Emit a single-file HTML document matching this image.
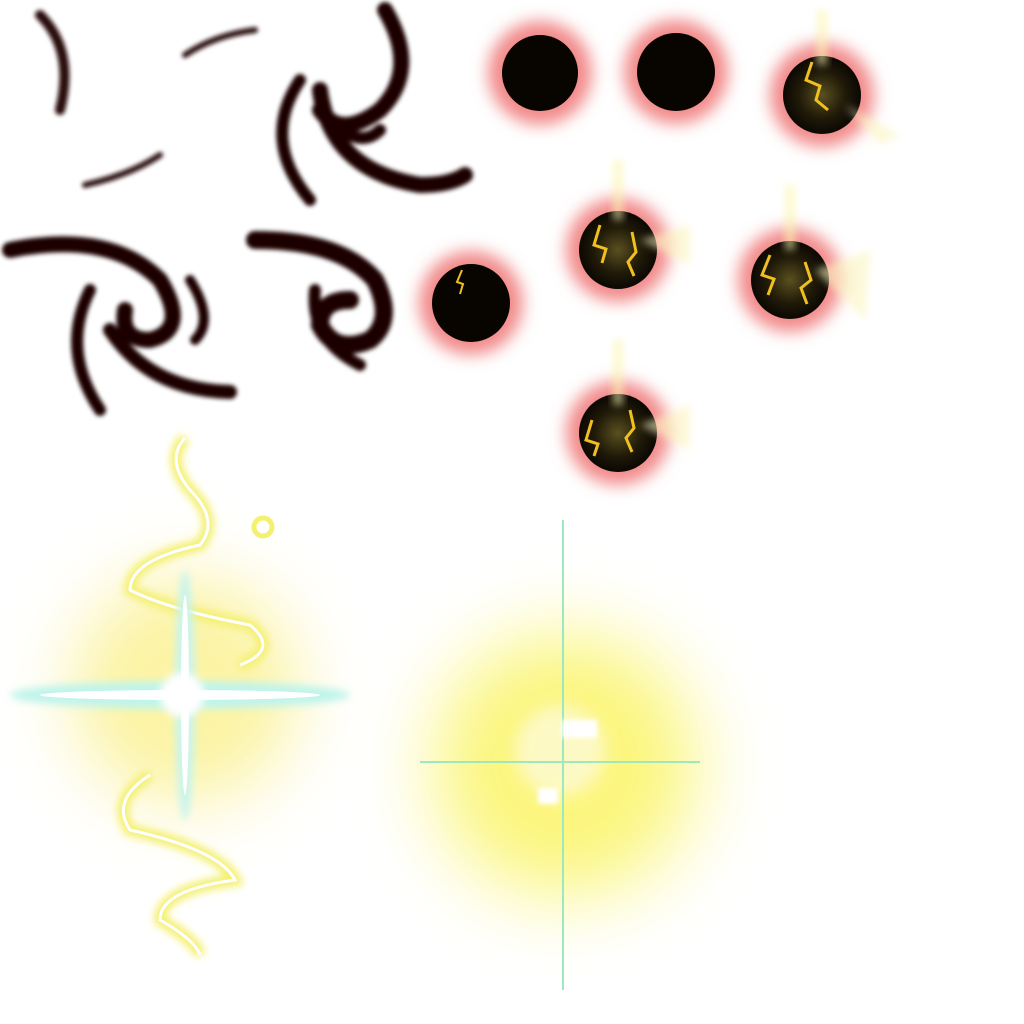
<!DOCTYPE html>
<html><head><meta charset="utf-8"><style>
html,body{margin:0;padding:0;background:#fff;width:1024px;height:1024px;overflow:hidden}
</style></head><body>
<svg width="1024" height="1024" viewBox="0 0 1024 1024" xmlns="http://www.w3.org/2000/svg">
<defs>
<filter id="b2" x="-50%" y="-50%" width="200%" height="200%"><feGaussianBlur stdDeviation="2"/></filter>
<filter id="b4" x="-50%" y="-50%" width="200%" height="200%"><feGaussianBlur stdDeviation="4"/></filter>
<filter id="b8" x="-50%" y="-50%" width="200%" height="200%"><feGaussianBlur stdDeviation="8"/></filter>
<filter id="b30" x="-50%" y="-50%" width="200%" height="200%"><feGaussianBlur stdDeviation="30"/></filter>
<radialGradient id="yg" cx="50%" cy="50%" r="50%">
<stop offset="0" stop-color="#fff8a0"/><stop offset="0.45" stop-color="#fbf56a"/><stop offset="0.75" stop-color="#fdfbc0"/><stop offset="1" stop-color="#fff" stop-opacity="0"/></radialGradient>
<radialGradient id="yg2" cx="50%" cy="50%" r="50%">
<stop offset="0" stop-color="#fff6b0"/><stop offset="0.5" stop-color="#fbf29a"/><stop offset="1" stop-color="#fff" stop-opacity="0"/></radialGradient>
<radialGradient id="orbIn" cx="50%" cy="50%" r="50%">
<stop offset="0" stop-color="#5a5020"/><stop offset="0.6" stop-color="#201a08"/><stop offset="1" stop-color="#0b0803"/></radialGradient>
</defs>

<g fill="none" stroke="#2a0c0c" stroke-linecap="round" filter="url(#b2)">
<path d="M40 15 Q75 50 60 110" stroke-width="10"/>
<path d="M185 55 Q215 35 255 30" stroke-width="6"/>
<path d="M85 185 Q130 175 160 155" stroke-width="6"/>
</g>
<g fill="none" stroke="#1e0606" stroke-linecap="round" filter="url(#b2)">
<path d="M385 10 Q420 70 380 110 Q340 140 320 110" stroke-width="16"/>
<path d="M300 80 Q260 140 310 200" stroke-width="12"/>
<path d="M320 90 Q330 170 420 185 Q450 185 465 175" stroke-width="16"/>
<path d="M330 120 Q360 150 380 130" stroke-width="12"/>
</g>
<g fill="none" stroke="#1e0606" stroke-linecap="round" filter="url(#b2)">
<path d="M10 250 Q110 230 160 280 Q190 330 150 340 Q120 340 125 310" stroke-width="16"/>
<path d="M90 290 Q60 350 100 410" stroke-width="12"/>
<path d="M110 330 Q150 390 230 392" stroke-width="14"/>
<path d="M190 280 Q215 320 195 340" stroke-width="10"/>
</g>
<g fill="none" stroke="#1e0606" stroke-linecap="round" filter="url(#b2)">
<path d="M255 240 Q340 240 375 280 Q395 320 370 340 Q335 355 320 325 Q320 300 350 300" stroke-width="18"/>
<path d="M315 290 Q310 340 360 365" stroke-width="12"/>
</g>

<g>
<g><circle cx="540" cy="73" r="52" fill="#f28a8a" filter="url(#b8)"/><circle cx="540" cy="73" r="38" fill="#080400"/></g>
<g><circle cx="676" cy="72" r="52" fill="#f28a8a" filter="url(#b8)"/><circle cx="676" cy="72" r="39" fill="#080400"/></g>
<g><circle cx="471" cy="303" r="52" fill="#f28a8a" filter="url(#b8)"/><circle cx="471" cy="303" r="39" fill="#080400"/><path d="M462 270 l-5 12 l6 2 l-3 10" stroke="#f0c020" stroke-width="2" fill="none"/></g>
<g><circle cx="822" cy="95" r="52" fill="#f28a8a" filter="url(#b8)"/><circle cx="822" cy="95" r="39" fill="url(#orbIn)"/><path d="M812 62 l-6 18 l14 6 l-4 14 l12 10" stroke="#f0c020" stroke-width="3" fill="none"/><rect x="817" y="10" width="10" height="55" fill="#fbf5b0" opacity="0.6" filter="url(#b4)"/><path d="M845 105 L900 135 L880 145 Z" fill="#fbf5c0" opacity="0.6" filter="url(#b4)"/></g>
<g><circle cx="618" cy="250" r="52" fill="#f28a8a" filter="url(#b8)"/><circle cx="618" cy="250" r="39" fill="url(#orbIn)"/><path d="M600 225 l-6 20 l12 4 l-4 14 M632 232 l4 20 l-8 10 l6 14" stroke="#f0c020" stroke-width="3" fill="none"/><rect x="613" y="160" width="10" height="60" fill="#fbf5b0" opacity="0.6" filter="url(#b4)"/><path d="M640 240 L690 225 L690 265 Z" fill="#fbf5c0" opacity="0.6" filter="url(#b4)"/></g>
<g><circle cx="790" cy="280" r="52" fill="#f28a8a" filter="url(#b8)"/><circle cx="790" cy="280" r="39" fill="url(#orbIn)"/><path d="M770 255 l-8 20 l12 4 l-6 16 M805 262 l6 18 l-10 8 l6 16" stroke="#f0c020" stroke-width="3" fill="none"/><rect x="785" y="185" width="10" height="65" fill="#fbf5b0" opacity="0.6" filter="url(#b4)"/><path d="M815 270 L870 250 L865 320 Z" fill="#fbf5c0" opacity="0.6" filter="url(#b4)"/></g>
<g><circle cx="618" cy="433" r="52" fill="#f28a8a" filter="url(#b8)"/><circle cx="618" cy="433" r="39" fill="url(#orbIn)"/><path d="M592 420 l-6 20 l12 4 l-4 12 M630 410 l4 18 l-8 10 l6 14" stroke="#f0c020" stroke-width="3" fill="none"/><rect x="613" y="340" width="10" height="65" fill="#fbf5b0" opacity="0.6" filter="url(#b4)"/><path d="M640 425 L690 405 L690 450 Z" fill="#fbf5c0" opacity="0.6" filter="url(#b4)"/></g>
</g>

<g>
<circle cx="185" cy="690" r="165" fill="url(#yg2)" filter="url(#b30)"/>
<g fill="none">
<path d="M185 438 Q165 460 190 490 Q220 520 200 545 Q130 560 130 590 Q170 610 250 625 Q280 650 240 665" stroke="#f4f070" stroke-width="12" filter="url(#b4)"/>
<path d="M185 438 Q165 460 190 490 Q220 520 200 545 Q130 560 130 590 Q170 610 250 625 Q280 650 240 665" stroke="#fff" stroke-width="3"/>
<path d="M150 775 Q110 800 130 830 Q220 850 235 880 Q160 890 160 920 Q195 940 200 955" stroke="#f4f070" stroke-width="12" filter="url(#b4)"/>
<path d="M150 775 Q110 800 130 830 Q220 850 235 880 Q160 890 160 920 Q195 940 200 955" stroke="#fff" stroke-width="3"/>
<circle cx="263" cy="527" r="9" stroke="#f4f070" stroke-width="5"/>
</g>
<ellipse cx="180" cy="695" rx="170" ry="14" fill="#bff4ec" filter="url(#b4)"/>
<ellipse cx="180" cy="695" rx="140" ry="5" fill="#fff"/>
<ellipse cx="185" cy="695" rx="10" ry="125" fill="#c8f4ee" filter="url(#b4)"/>
<ellipse cx="185" cy="695" rx="4" ry="100" fill="#fff"/>
<circle cx="182" cy="695" r="22" fill="#fff" filter="url(#b4)"/>
</g>

<g>
<circle cx="565" cy="765" r="180" fill="url(#yg)" filter="url(#b30)"/>
<circle cx="560" cy="750" r="45" fill="#fdfbe0" opacity="0.7" filter="url(#b8)"/>
<line x1="563" y1="520" x2="563" y2="990" stroke="#9ee8c0" stroke-width="2"/>
<line x1="420" y1="762" x2="700" y2="762" stroke="#9ee8c0" stroke-width="2"/>
<rect x="562" y="720" width="35" height="18" fill="#fff" filter="url(#b2)"/>
<rect x="538" y="788" width="20" height="16" fill="#fff" filter="url(#b2)"/>
</g>
</svg>
</body></html>
